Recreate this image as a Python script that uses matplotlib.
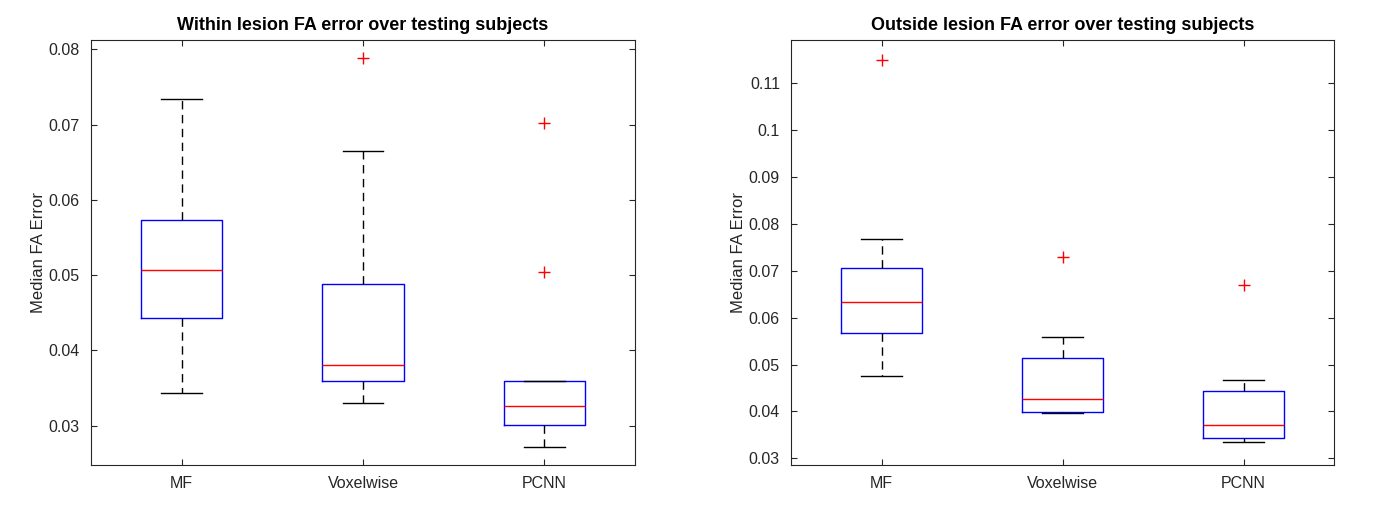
import matplotlib
matplotlib.use("Agg")
import matplotlib.pyplot as plt
from matplotlib.ticker import FuncFormatter

plt.rcParams['font.family'] = ['Liberation Sans', 'DejaVu Sans']

methods = ['MF', 'Voxelwise', 'PCNN']

# within lesion: lower whisker, q1, median, q3, upper whisker, outliers
within_low = [0.03436, 0.03303, 0.02713]
within_q1 = [0.04433, 0.03595, 0.0301]
within_med = [0.05069, 0.03811, 0.03259]
within_q3 = [0.05738, 0.04883, 0.03595]
within_high = [0.07344, 0.06649, 0.0360]
within_out = [[], [0.07884], [0.07017, 0.05046]]

# outside lesion
outside_low = [0.04751, 0.03957, 0.03347]
outside_q1 = [0.05666, 0.03992, 0.03438]
outside_med = [0.0634, 0.04262, 0.03715]
outside_q3 = [0.07064, 0.05128, 0.04438]
outside_high = [0.07687, 0.05581, 0.04666]
outside_out = [[0.11496], [0.07289], [0.06702]]


def make_stats(low, q1, med, q3, high, out):
    stats = []
    for i in range(len(methods)):
        stats.append({'label': methods[i], 'whislo': low[i], 'q1': q1[i], 'med': med[i],
                      'q3': q3[i], 'whishi': high[i], 'fliers': out[i]})
    return stats


def draw(ax, stats, title, ylim, yticks):
    ax.bxp(stats, widths=0.45, capwidths=0.225,
           boxprops=dict(color='blue', linewidth=1),
           medianprops=dict(color='red', linewidth=1),
           whiskerprops=dict(color='black', linewidth=1, linestyle=(0, (6, 4))),
           capprops=dict(color='black', linewidth=1),
           flierprops=dict(marker='+', markeredgecolor='red', markersize=9, linestyle='none'))
    ax.set_xlim(0.5, 3.5)
    ax.set_ylim(*ylim)
    ax.set_yticks(yticks)
    ax.yaxis.set_major_formatter(FuncFormatter(lambda v, p: '%g' % round(v, 4)))
    ax.set_title(title, fontsize=13, fontweight='bold', pad=7)
    ax.set_ylabel('Median FA Error', fontsize=12, color='#262626', labelpad=2)
    ax.tick_params(direction='in', top=True, right=True, length=4, labelsize=11.5,
                   colors='#262626', pad=8)
    for s in ax.spines.values():
        s.set_color('#262626')
        s.set_linewidth(0.8)


fig = plt.figure(figsize=(14, 5.25), dpi=100)
ax1 = fig.add_axes([0.065, 0.1143, 0.3886, 0.8095])
ax2 = fig.add_axes([0.565, 0.1143, 0.388, 0.8095])

draw(ax1, make_stats(within_low, within_q1, within_med, within_q3, within_high, within_out),
     'Within lesion FA error over testing subjects', (0.02478, 0.08124),
     [0.03, 0.04, 0.05, 0.06, 0.07, 0.08])
draw(ax2, make_stats(outside_low, outside_q1, outside_med, outside_q3, outside_high, outside_out),
     'Outside lesion FA error over testing subjects', (0.02857, 0.1192),
     [0.03, 0.04, 0.05, 0.06, 0.07, 0.08, 0.09, 0.10, 0.11])

fig.savefig('out.png', dpi=100)
